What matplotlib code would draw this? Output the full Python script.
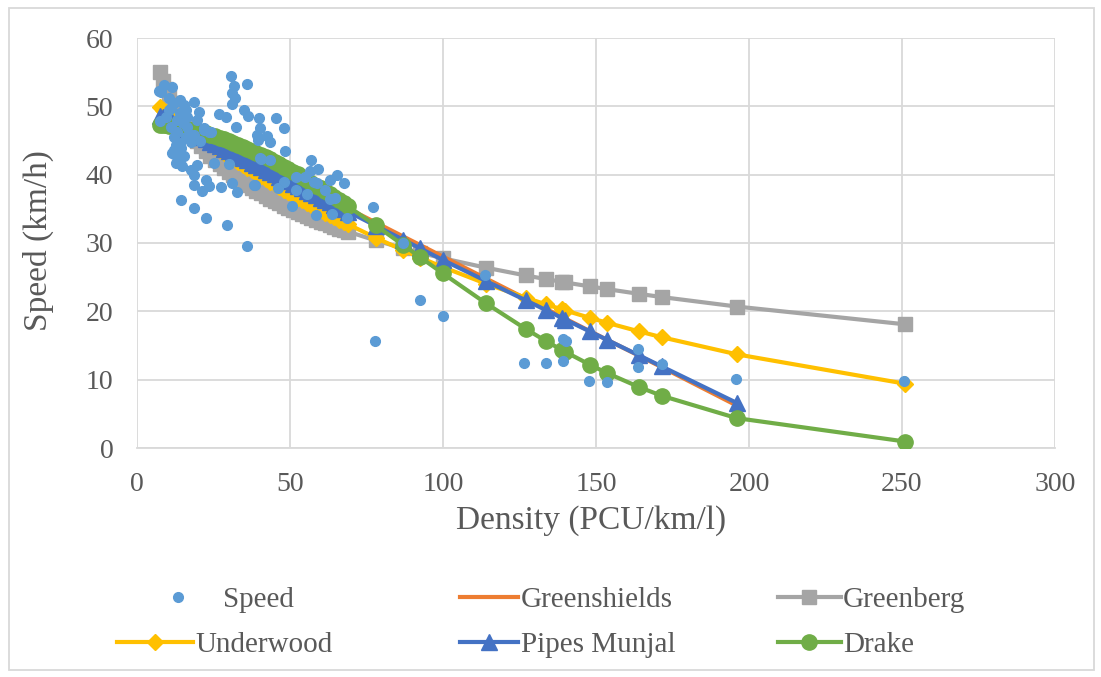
import matplotlib
matplotlib.use("Agg")
import matplotlib.pyplot as plt
from matplotlib.patches import Rectangle
import numpy as np

# ---------------- data ----------------
density = [7.5, 8.5, 9.5, 10.5, 11.5, 12.5, 13.5, 14.5, 15.5, 16.5, 18, 19.5, 21, 22.5, 24,
           25.5, 27, 28.5, 30, 31.5, 33, 34.5, 36, 37.5, 39, 40.5, 42, 43.5, 45, 46.5, 48,
           49.5, 51, 52.5, 54, 55.5, 57, 58.5, 60, 61.5, 63, 64.5, 66, 67.5, 69, 78, 87,
           92.5, 100, 114, 127, 133.5, 139, 140, 148, 153.5, 164, 171.5, 196, 251]

greenshields = [49.00, 48.77, 48.55, 48.32, 48.09, 47.87, 47.64, 47.41, 47.18, 46.96, 46.62,
                46.28, 45.94, 45.60, 45.25, 44.91, 44.57, 44.23, 43.89, 43.55, 43.21, 42.87,
                42.53, 42.19, 41.85, 41.51, 41.17, 40.83, 40.49, 40.15, 39.81, 39.47, 39.13,
                38.79, 38.44, 38.10, 37.76, 37.42, 37.08, 36.74, 36.40, 36.06, 35.72, 35.38,
                35.04, 33.00, 30.95, 29.71, 28.00, 24.82, 21.87, 20.40, 19.15, 18.92, 17.10,
                15.86, 13.52, 11.82, 6.21, None]

greenberg = [54.96, 53.64, 52.48, 51.43, 50.47, 49.59, 48.78, 48.04, 47.33, 46.68, 45.77,
             44.93, 44.14, 43.42, 42.75, 42.11, 41.51, 40.94, 40.40, 39.89, 39.40, 38.93,
             38.48, 38.06, 37.64, 37.25, 36.87, 36.50, 36.14, 35.80, 35.47, 35.14, 34.83,
             34.52, 34.23, 33.95, 33.66, 33.39, 33.13, 32.87, 32.61, 32.37, 32.12, 31.89,
             31.66, 30.37, 29.22, 28.58, 27.76, 26.39, 25.25, 24.73, 24.31, 24.22, 23.65,
             23.26, 22.56, 22.09, 20.70, 18.10]

underwood = [49.87, 49.53, 49.19, 48.86, 48.52, 48.19, 47.86, 47.54, 47.21, 46.89, 46.41,
             45.94, 45.47, 45.00, 44.54, 44.09, 43.64, 43.19, 42.75, 42.31, 41.88, 41.45,
             41.03, 40.61, 40.19, 39.78, 39.38, 38.97, 38.58, 38.18, 37.79, 37.41, 37.02,
             36.65, 36.27, 35.90, 35.53, 35.17, 34.81, 34.45, 34.10, 33.75, 33.41, 33.07,
             32.73, 30.77, 28.93, 27.86, 26.47, 24.05, 22.00, 21.04, 20.27, 20.12, 19.05,
             18.34, 17.07, 16.21, 13.71, 9.41]

pipes_munjal = [48.60, 48.37, 48.14, 47.92, 47.69, 47.46, 47.23, 47.00, 46.78, 46.55, 46.21,
                45.86, 45.52, 45.18, 44.84, 44.50, 44.15, 43.81, 43.47, 43.13, 42.79, 42.44,
                42.10, 41.76, 41.42, 41.08, 40.73, 40.39, 40.05, 39.71, 39.37, 39.02, 38.68,
                38.34, 38.00, 37.66, 37.31, 36.97, 36.63, 36.29, 35.95, 35.60, 35.26, 34.92,
                34.58, 32.53, 30.47, 29.22, 27.50, 24.45, 21.62, 20.21, 19.01, 18.79, 17.05,
                15.85, 13.57, 11.93, 6.60, None]

drake = [47.33, 47.29, 47.23, 47.18, 47.11, 47.04, 46.96, 46.88, 46.80, 46.70, 46.55,
         46.39, 46.22, 46.03, 45.83, 45.62, 45.40, 45.16, 44.92, 44.66, 44.39, 44.11,
         43.82, 43.53, 43.22, 42.90, 42.57, 42.23, 41.88, 41.53, 41.17, 40.80, 40.42,
         40.03, 39.63, 39.23, 38.82, 38.41, 37.99, 37.56, 37.13, 36.69, 36.25, 35.80,
         35.35, 32.57, 29.70, 27.93, 25.54, 21.19, 17.43, 15.69, 14.30, 14.06, 12.19,
         10.99, 8.93, 7.64, 4.37, 0.95]

obs_density = [7.2, 8.8, 11.5, 7.7, 10.4, 11.0, 7.4, 10.4, 12.1, 15.3, 18.6, 20.2, 14.2, 16.4,
               19.7, 11.0, 13.2, 16.4, 18.6, 21.9, 24.1, 21.9, 23.5, 14.2, 17.5, 12.1, 15.3,
               13.2, 12.6, 14.3, 12.1, 11.5, 14.8, 12.6, 14.8, 17.5, 19.7, 18.6, 22.4, 23.5,
               18.6, 21.3, 27.3, 25.1, 30.0, 31.1, 32.7, 38.2, 40.2, 14.3, 18.6, 22.7, 29.4,
               36.0, 13.0, 15.0, 17.0, 12.0, 16.0, 20.5, 9.5, 14.0, 16.0,
               30.6, 31.7, 35.8, 30.9, 31.9, 30.9, 26.8, 29.1, 32.5, 34.9, 36.2, 39.8, 40.1,
               45.3, 48.2, 39.3, 39.5, 42.5, 43.4, 48.3, 40.4, 43.6, 56.9, 59.3, 56.5, 51.8,
               54.8, 57.8, 58.9, 63.0, 65.4, 67.5, 48.0, 46.2, 38.6, 51.8, 55.6, 61.6, 63.2,
               64.7, 50.7, 58.6, 63.8, 68.5, 77.0, 86.9,
               77.7, 92.4, 100.0, 113.8, 126.6, 133.6, 139.2, 140.2, 139.2, 147.6, 153.6,
               163.6, 163.6, 171.5, 195.7, 250.7]
obs_speed = [52.2, 53.1, 52.9, 52.1, 51.2, 49.7, 47.8, 49.5, 50.5, 50.2, 50.6, 49.1, 49.0, 48.5,
             48.0, 47.0, 46.3, 47.0, 45.8, 46.6, 46.2, 46.9, 46.3, 44.6, 44.8, 43.6, 42.8,
             44.1, 44.4, 43.9, 43.0, 43.1, 42.7, 41.7, 41.2, 40.7, 41.4, 40.0, 39.2, 38.3,
             38.5, 37.6, 38.2, 41.7, 41.6, 38.8, 37.4, 38.5, 42.4, 36.3, 35.1, 33.7, 32.6,
             29.6, 48.0, 47.5, 46.0, 45.5, 45.5, 45.0, 48.5, 51.0, 49.5,
             54.5, 53.0, 53.3, 51.9, 51.2, 50.4, 48.9, 48.4, 47.0, 49.5, 48.6, 48.3, 46.9,
             48.3, 46.8, 45.8, 45.1, 45.6, 44.8, 43.5, 42.3, 42.2, 42.1, 40.8, 40.6, 39.7,
             39.7, 39.0, 38.8, 39.2, 40.0, 38.8, 39.0, 38.0, 38.5, 37.7, 37.2, 37.7, 36.5,
             36.6, 35.4, 34.1, 34.3, 33.6, 35.2, 30.0,
             15.7, 21.6, 19.3, 25.3, 12.5, 12.4, 15.9, 15.6, 12.7, 9.8, 9.6,
             14.5, 11.8, 12.3, 10.1, 9.8]

x_ticks = [0, 50, 100, 150, 200, 250, 300]
y_ticks = [0, 10, 20, 30, 40, 50, 60]
x_label = "Density (PCU/km/l)"
y_label = "Speed (km/h)"

# ---------------- style ----------------
plt.rcParams['font.family'] = ['Liberation Serif', 'DejaVu Serif']
TXT = '#595959'
GRID = '#D9D9D9'

W, H = 1101, 677
fig = plt.figure(figsize=(W / 100, H / 100), dpi=100)
ax = fig.add_axes([137 / W, 1 - 448 / H, 918 / W, 410 / H])

def arr(v):
    return np.array([np.nan if a is None else a for a in v], dtype=float)

k = np.array(density, dtype=float)
lw = 3.0
l_gs, = ax.plot(k, arr(greenshields), color='#ED7D31', lw=lw, zorder=3, label='Greenshields')
l_gb, = ax.plot(k, arr(greenberg), color='#A5A5A5', lw=lw, marker='s', ms=9.5, zorder=2,
                label='Greenberg')
l_uw, = ax.plot(k, arr(underwood), color='#FFC000', lw=lw, marker='D', ms=8, zorder=3.5,
                label='Underwood')
l_pm, = ax.plot(k, arr(pipes_munjal), color='#4472C4', lw=lw, marker='^', ms=11, zorder=4,
                label='Pipes Munjal')
l_dr, = ax.plot(k, arr(drake), color='#70AD47', lw=lw, marker='o', ms=11, zorder=5,
                label='Drake')
l_sp, = ax.plot(obs_density, obs_speed, ls='none', marker='o', ms=7, color='#5B9BD5',
                zorder=6, label='Speed')

ax.set_xlim(0, 300)
ax.set_ylim(0, 60)
ax.set_xticks(x_ticks)
ax.set_yticks(y_ticks)
ax.grid(True, color=GRID, lw=1.3, zorder=0)
ax.set_axisbelow(True)
for s in ['top', 'right', 'left']:
    ax.spines[s].set_visible(False)
ax.spines['bottom'].set_color(GRID)
ax.spines['bottom'].set_linewidth(1.3)
ax.tick_params(length=0, labelsize=20, labelcolor=TXT)
ax.tick_params(axis='y', pad=17)
ax.tick_params(axis='x', pad=17)

ax.set_xlabel(x_label, fontsize=24, color=TXT)
ax.set_ylabel(y_label, fontsize=24, color=TXT)
ax.xaxis.label.set_va('center')
ax.xaxis.set_label_coords(0.495, -0.176)
ax.yaxis.label.set_va('center')
ax.yaxis.set_label_coords(-0.107, 0.505)

# legend entries (Excel-like grid of 3 columns x 2 rows)
entries = [(l_sp, 135.6, 2.9), (l_uw, 117, 2.6),
           (l_gs, 460, 2.0), (l_pm, 460, 2.0),
           (l_gb, 778, 2.15), (l_dr, 778, 2.15)]
row_top = [587, 632]
for i, (h, xpx, hl) in enumerate(entries):
    fig.legend(handles=[h], loc='upper left',
               bbox_to_anchor=(xpx / W, 1 - row_top[i % 2] / H), frameon=False,
               fontsize=21, labelcolor=TXT, handlelength=hl, handletextpad=0.08,
               numpoints=1, borderpad=0, borderaxespad=0)

# chart border
fig.add_artist(Rectangle((9 / W, 1 - 670 / H), (1094 - 9) / W, (670 - 8) / H,
                         transform=fig.transFigure, fill=False, edgecolor=GRID, lw=1.3))

fig.savefig('out.png', dpi=100)
